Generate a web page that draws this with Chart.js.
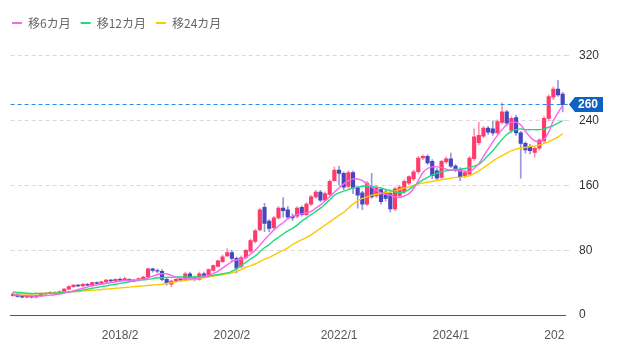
<!DOCTYPE html>
<html lang="ja">
<head>
<meta charset="UTF-8">
<title>月足チャート</title>
<style>
  body { margin: 0; background: #fff; }
  #wrap { width: 617px; height: 346px; position: relative; }
</style>
<script src="https://cdn.jsdelivr.net/npm/chart.js"></script>
</head>
<body>
<div id="wrap"><canvas id="kabuChart"></canvas></div>
<script>
// 月ラベル 2016/3 〜 2026/1 (119本)
const months = [];
for (let k = 0; k < 119; k++) {
  const t = 2016 * 12 + 2 + k;
  months.push(Math.floor(t / 12) + '/' + (t % 12 + 1));
}
const xTickLabels = ['2018/2', '2020/2', '2022/1', '2024/1', '2026/1'];
const yTicks = [0, 80, 160, 240, 320];
const currentPrice = 260;

const openVals = [24,26,23,22,23,22,24,26,27,28, 27,29,32,35,37,36,38,37,40,39, 41,43,42,44,43,44,42,43,45,47,
  57,55,54,44,38,42,44,44,51,46, 44,51,49,55,60,66,73,77,70,60, 71,79,91,105,133,116,108,120,132,130,
  122,122,133,124,137,146,152,142,149,166, 179,175,159,176,157,151,137,158,147,155, 152,150,131,147,152,163,168,177,194,196,
  190,178,170,189,193,184,180,172,174,193, 213,221,231,230,225,238,251,228,244,225, 212,208,201,206,215,243,269,279,273];
const highVals = [28,27,24,24,24,25,27,28,29,29, 30,33,36,38,38,39,39,41,41,42, 44,44,45,46,47,45,44,46,48,58,
  58,57,56,46,43,45,46,53,53,48, 53,53,57,62,68,74,82,80,72,73, 81,94,106,132,138,118,122,134,145,134,
  125,134,135,139,148,154,154,152,167,183, 184,177,178,178,159,153,165,175,160,157, 155,154,158,160,167,172,179,196,198,198,
  192,181,191,195,200,186,182,178,196,230, 238,233,233,240,241,262,253,245,247,227, 214,211,208,218,245,272,282,290,275];
const lowVals = [23,22,21,21,21,21,23,25,26,26, 26,28,31,34,35,35,36,36,38,38, 40,41,41,42,42,41,41,42,44,46,
  53,52,42,37,35,41,42,43,45,42, 43,48,48,54,59,65,72,66,52,58, 69,77,89,104,103,103,106,118,121,119,
  117,120,122,123,135,144,140,141,147,165, 160,155,157,150,132,130,135,144,145,137, 141,127,129,145,150,161,166,175,192,186,
  168,166,168,187,182,177,166,170,172,191, 210,219,223,222,223,236,234,225,222,169, 200,199,195,204,212,240,266,270,251];
const closeVals = [26,23,22,23,22,24,26,27,28,27, 29,32,35,37,36,38,37,40,39,41, 43,42,44,43,45,42,43,45,47,57,
  55,54,44,39,42,44,43,51,46,44, 51,49,56,61,67,72,77,70,58,71, 80,92,104,130,113,107,120,132,129,121,
  120,132,124,137,146,152,142,150,165,179, 175,158,176,157,148,137,163,146,157,140, 144,131,156,158,165,171,177,194,196,188,
  172,169,190,193,184,179,171,176,194,220, 222,231,226,225,239,251,237,243,225,212, 204,203,206,216,243,270,279,272,260];

const ma6 = [25,24.5,24,24,23.5,23.5,23.5,24,24.5,25, 26,27,28.5,30,31.5,33,34.5,36,37,38, 39,40,41,42,42.5,43,43,43.5,44,46,
  48,50,51,51,49,46.5,45,44.5,44.5,45, 46,47,48.5,51,54,58,62,66,68,69, 71,75,80,86,93,99,105,110,114,119,
  122,124,125,126,128,132,136,141,146,152, 157,162,166,168,168,166,162,158,154,151, 149,148,146,145,147,150,156,166,176,181,
  183,183,182,180,179,179,178,178,177,181, 187,196,205,214,222,229,235,238,238,235, 227,220,215,214,217,226,240,250,259];
const ma12 = [28.5,28,27.5,27,26.5,26.5,26.5,26.5,27,27, 27.5,28,28.5,29,30,31,32,33,34,35, 36,37,38,39,40,41,42,43,43.5,44,
  45,46,46,46.5,46.5,47,47,47,47,47, 47,47.5,48,49,50,51,52,54,57,61, 65,69,73,78,83,87,92,96,100,104,
  107,111,116,120,124,128,132,137,142,148, 151,153,155,157,158,159,159,159,158,157, 155,154,152,151,152,155,159,163,167,170,
  173,175,177,178,179,180,180,181,182,184, 186,191,197,203,210,217,223,227,229,230, 229,229,229,229,230,232,234,237,240];
const ma24 = [26,26,26,26,26,26.5,26.5,27,27,27.5, 28,28,28.5,29,29,29.5,30,30.5,31,31.5, 32,32.5,33,33.5,34,34.5,35,35.5,36,36.5,
  37,37.5,38,39,40,41,42,43,43.5,44, 45,46,47,48,49,50,51,52,54,56, 59,61,63,66,69,71,74,77,80,83,
  87,90,93,96,99,103,107,111,115,119, 123,127,132,137,141,144,146,148,149,150, 151,152,153,155,157,158,160,162,163,164,
  165,166,167,168,169,170,170,171,172,175, 178,182,186,190,194,197,200,203,205,206, 207,208,209,210,212,214,217,220,224];

const upColor = '#ff3b6b';
const downColor = '#4646c0';
const isUp = months.map((_, i) => closeVals[i] >= openVals[i]);
const bodies = months.map((_, i) => [Math.min(openVals[i], closeVals[i]), Math.max(openVals[i], closeVals[i])]);
const wicks = months.map((_, i) => [lowVals[i], highVals[i]]);

const labelFont = '12px "Liberation Sans", Arial, sans-serif';

// 現在値ライン・バッジ・X軸ラベル(描画領域で切り取り)
const overlay = {
  id: 'overlay',
  afterDraw(chart) {
    const {ctx, chartArea, scales} = chart;
    const y = scales.y.getPixelForValue(currentPrice);
    const ly = Math.floor(y) + 0.5;

    ctx.save();
    ctx.strokeStyle = 'rgb(40, 140, 240)';
    ctx.lineWidth = 1;
    ctx.setLineDash([4, 3]);
    ctx.beginPath();
    ctx.moveTo(chartArea.left, ly);
    ctx.lineTo(chartArea.right + 3, ly);
    ctx.stroke();
    ctx.setLineDash([]);

    const x0 = chartArea.right + 4;
    ctx.fillStyle = '#0d62c4';
    ctx.beginPath();
    ctx.moveTo(x0, y);
    ctx.lineTo(x0 + 6, y - 7.5);
    ctx.lineTo(x0 + 34, y - 7.5);
    ctx.lineTo(x0 + 34, y + 7.5);
    ctx.lineTo(x0 + 6, y + 7.5);
    ctx.closePath();
    ctx.fill();
    ctx.fillStyle = '#fff';
    ctx.font = 'bold 12px "Liberation Sans", Arial, sans-serif';
    ctx.textAlign = 'left';
    ctx.textBaseline = 'middle';
    ctx.fillText(String(currentPrice), x0 + 9, y + 0.5);

    ctx.beginPath();
    ctx.rect(0, chartArea.bottom, chartArea.right, chart.height - chartArea.bottom);
    ctx.clip();
    ctx.fillStyle = '#555';
    ctx.font = labelFont;
    ctx.textAlign = 'center';
    xTickLabels.forEach(lbl => {
      const idx = months.indexOf(lbl);
      if (idx >= 0) ctx.fillText(lbl, scales.x.getPixelForValue(idx), chartArea.bottom + 21);
    });
    ctx.restore();
  }
};

new Chart(document.getElementById('kabuChart'), {
  type: 'bar',
  data: {
    labels: months,
    datasets: [
      { type: 'line', label: '移6カ月', data: ma6, borderColor: '#f865f2', backgroundColor: '#f865f2',
        borderWidth: 1.4, pointRadius: 0, tension: 0.3, order: 0, xAxisID: 'x', yAxisID: 'y' },
      { type: 'line', label: '移12カ月', data: ma12, borderColor: '#1fdc7a', backgroundColor: '#1fdc7a',
        borderWidth: 1.4, pointRadius: 0, tension: 0.3, order: 0, xAxisID: 'x', yAxisID: 'y' },
      { type: 'line', label: '移24カ月', data: ma24, borderColor: '#ffc800', backgroundColor: '#ffc800',
        borderWidth: 1.4, pointRadius: 0, tension: 0.3, order: 0, xAxisID: 'x', yAxisID: 'y' },
      { label: '実体', data: bodies, backgroundColor: isUp.map(u => u ? upColor : downColor),
        barThickness: 3.5, grouped: false, order: 1, xAxisID: 'x', yAxisID: 'y' },
      { label: 'ヒゲ', data: wicks, backgroundColor: isUp.map(u => u ? 'rgba(255,59,107,0.55)' : 'rgba(70,70,192,0.55)'),
        barThickness: 1, grouped: false, order: 2, xAxisID: 'x', yAxisID: 'y' }
    ]
  },
  options: {
    responsive: true,
    maintainAspectRatio: false,
    animation: false,
    layout: { padding: { top: 7, left: 2, right: 0, bottom: 0 } },
    plugins: {
      tooltip: { enabled: false },
      legend: {
        position: 'top',
        align: 'start',
        labels: {
          boxWidth: 10,
          boxHeight: 2,
          padding: 10,
          color: '#666',
          font: { size: 12, family: '"Noto Sans CJK JP", sans-serif' },
          generateLabels: chart => Chart.defaults.plugins.legend.labels.generateLabels(chart)
            .filter(l => l.datasetIndex < 3)
            .map(l => Object.assign(l, { lineWidth: 0 }))
        }
      }
    },
    scales: {
      x: {
        type: 'category',
        offset: true,
        grid: { display: false },
        ticks: { display: false },
        border: { display: true, color: '#555', width: 1 },
        afterFit: s => { s.height = 31; }
      },
      yPad: {
        axis: 'y',
        position: 'left',
        display: true,
        grid: { display: false },
        ticks: { display: false },
        border: { display: false },
        afterFit: s => { s.width = 8.6; }
      },
      y: {
        position: 'right',
        min: 0,
        max: 341,
        afterBuildTicks: s => { s.ticks = yTicks.map(v => ({ value: v })); },
        ticks: { padding: 10, color: '#333', font: { size: 12, family: '"Liberation Sans", Arial, sans-serif' } },
        grid: {
          color: c => (c.tick && c.tick.value === 0) ? 'rgba(0,0,0,0)' : '#d9d9d9',
          tickLength: 4,
          tickBorderDash: [4, 3]
        },
        border: { display: false, dash: [4, 3] },
        afterFit: s => { s.width = 52; }
      }
    }
  },
  plugins: [overlay]
});
</script>
</body>
</html>
